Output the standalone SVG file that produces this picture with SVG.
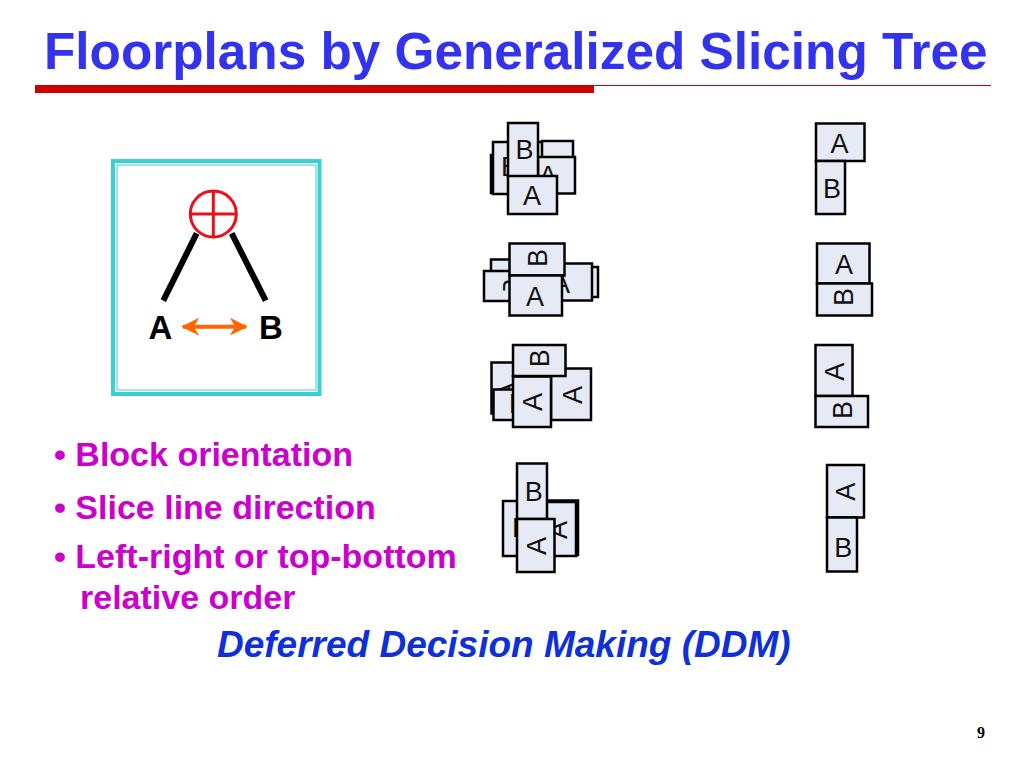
<svg xmlns="http://www.w3.org/2000/svg" width="1024" height="768" viewBox="0 0 1024 768">
<style>
text{font-family:"Liberation Sans",Arial,sans-serif}
.b{fill:#E6EAF5;stroke:#000;stroke-width:2.500}
.l{font-size:27px;text-anchor:middle;fill:#111}
.s{text-anchor:start}
.m{font-size:34px;font-weight:bold;fill:#CC00CC}
.t{font-size:33px;font-weight:bold;fill:#000;text-anchor:middle}
.e{stroke:#000;stroke-width:6;fill:none}
</style>
<defs>
<marker id="ah" viewBox="0 0 10 10" refX="9" refY="5" markerWidth="4.500" markerHeight="5" orient="auto-start-reverse" markerUnits="strokeWidth"><path d="M0 0L10 5L0 10L3 5Z" fill="#FF6600"/></marker>
<clipPath id="c2"><rect x="500" y="270" width="10" height="20.500"/></clipPath>
</defs>
<rect width="1024" height="768" fill="#fff"/>
<text id="title" x="44" y="69" font-size="51.300" font-weight="bold" fill="#3333EE">Floorplans by Generalized Slicing Tree</text>
<rect x="35" y="85" width="559" height="8" fill="#CC0000"/>
<rect x="594" y="85" width="397" height="1" fill="#CC0000"/>
<g id="tree-frame">
<rect x="113" y="161" width="206.500" height="233" fill="none" stroke="#3CCFCF" stroke-width="4"/>
<rect x="117" y="165" width="199" height="225" fill="none" stroke="#3CCFCF" stroke-width="1"/>
</g>
<g id="connectors">
<line class="e" x1="196.700" y1="233.300" x2="163.300" y2="300.700"/>
<line class="e" x1="231.700" y1="233.300" x2="265.700" y2="300.700"/>
<line x1="183" y1="326.700" x2="246" y2="326.700" stroke="#FF6600" stroke-width="4" marker-start="url(#ah)" marker-end="url(#ah)"/>
</g>
<g id="node-op" fill="none" stroke="#E8101A" stroke-width="3">
<circle cx="213.300" cy="214" r="23"/>
<path d="M190.300 214H236.300M213.300 191V237"/>
</g>
<g id="node-a"><text class="t" x="160.500" y="339">A</text></g>
<g id="node-b"><text class="t" x="271" y="339">B</text></g>
<g id="bullets">
<text class="m" x="54" y="466">• Block orientation</text>
<text class="m" x="54" y="519">• Slice line direction</text>
<text class="m" x="54" y="568">• Left-right or top-bottom</text>
<text class="m" x="80" y="609">relative order</text>
</g>
<text id="ddm" x="217" y="657" font-size="37" font-weight="bold" font-style="italic" fill="#0F2FD8">Deferred Decision Making (DDM)</text>
<text id="page" x="981" y="738" font-size="16" font-weight="bold" text-anchor="middle" style="font-family:'Liberation Serif',serif">9</text>

<g id="plan-1">
<rect class="b" x="491" y="155" width="30" height="38"/>
<rect class="b" x="493" y="142" width="50" height="52"/>
<text class="l" x="510" y="176">B</text>
<rect class="b" x="542" y="141" width="31" height="30"/>
<rect class="b" x="538" y="157" width="37" height="36.500"/>
<text class="l" x="548" y="185">A</text>
<rect class="b" x="508" y="123" width="30" height="54"/>
<text class="l" x="524.500" y="158.500">B</text>
<rect class="b" x="508" y="176" width="49" height="38"/>
<text class="l" x="532" y="205">A</text>
</g>
<g id="plan-2">
<rect class="b" x="491" y="259.500" width="30" height="30"/>
<rect class="b" x="560" y="267" width="38" height="30"/>
<rect class="b" x="555" y="263.500" width="37" height="37"/>
<text class="l" x="561" y="293">A</text>
<rect class="b" x="484" y="271" width="37" height="30"/>
<g clip-path="url(#c2)"><text class="l" transform="translate(521.500 287) rotate(-90)">B</text></g>
<rect class="b" x="509.500" y="243.500" width="55" height="32"/>
<text class="l" transform="translate(546.700 258) rotate(-90)">B</text>
<rect class="b" x="509.500" y="275.500" width="52.500" height="40"/>
<text class="l" x="535" y="306">A</text>
</g>
<g id="plan-3">
<rect class="b" x="491.500" y="362.500" width="30" height="51"/>
<text class="l" transform="translate(516 391) rotate(-90)">A</text>
<rect class="b" x="493.500" y="389.500" width="30" height="30.500"/>
<text class="l s" x="509" y="413" style="text-anchor:start">B</text>
<rect class="b" x="551" y="368.500" width="40" height="51.500"/>
<text class="l" transform="translate(581.700 395) rotate(-90)">A</text>
<rect class="b" x="513" y="376.500" width="38" height="50.500"/>
<text class="l" transform="translate(542.300 402) rotate(-90)">A</text>
<rect class="b" x="513" y="345" width="52.500" height="31"/>
<text class="l" transform="translate(549.300 358.300) rotate(-90)">B</text>
</g>
<g id="plan-4">
<rect class="b" x="503" y="501" width="40" height="55"/>
<text class="l" x="512" y="537" style="text-anchor:start">B</text>
<rect class="b" x="540" y="500.500" width="38" height="54.500"/>
<rect class="b" x="540" y="502" width="36" height="54"/>
<text class="l" transform="translate(567 530) rotate(-90)">A</text>
<rect class="b" x="517" y="463.500" width="30" height="55.500"/>
<text class="l" x="533.700" y="500.700">B</text>
<rect class="b" x="517" y="519" width="37.500" height="53"/>
<text class="l" transform="translate(546 546) rotate(-90)">A</text>
</g>
<g id="result-1">
<rect class="b" x="816" y="123.500" width="48.500" height="37.500"/>
<text class="l" x="839.500" y="152.700">A</text>
<rect class="b" x="816" y="161" width="29" height="53"/>
<text class="l" x="832" y="198.300">B</text>
</g>
<g id="result-2">
<rect class="b" x="817" y="243.500" width="52.500" height="40"/>
<text class="l" x="844" y="274">A</text>
<rect class="b" x="817" y="283.500" width="55" height="32"/>
<text class="l" transform="translate(853.300 297) rotate(-90)">B</text>
</g>
<g id="result-3">
<rect class="b" x="815.500" y="345" width="37" height="51"/>
<text class="l" transform="translate(844.300 371.700) rotate(-90)">A</text>
<rect class="b" x="815.500" y="396" width="52.500" height="31"/>
<text class="l" transform="translate(851.700 410) rotate(-90)">B</text>
</g>
<g id="result-4">
<rect class="b" x="827" y="465" width="37" height="52.500"/>
<text class="l" transform="translate(855 491.700) rotate(-90)">A</text>
<rect class="b" x="827" y="517.500" width="30" height="54"/>
<text class="l" x="843.300" y="556.700">B</text>
</g>
</svg>
